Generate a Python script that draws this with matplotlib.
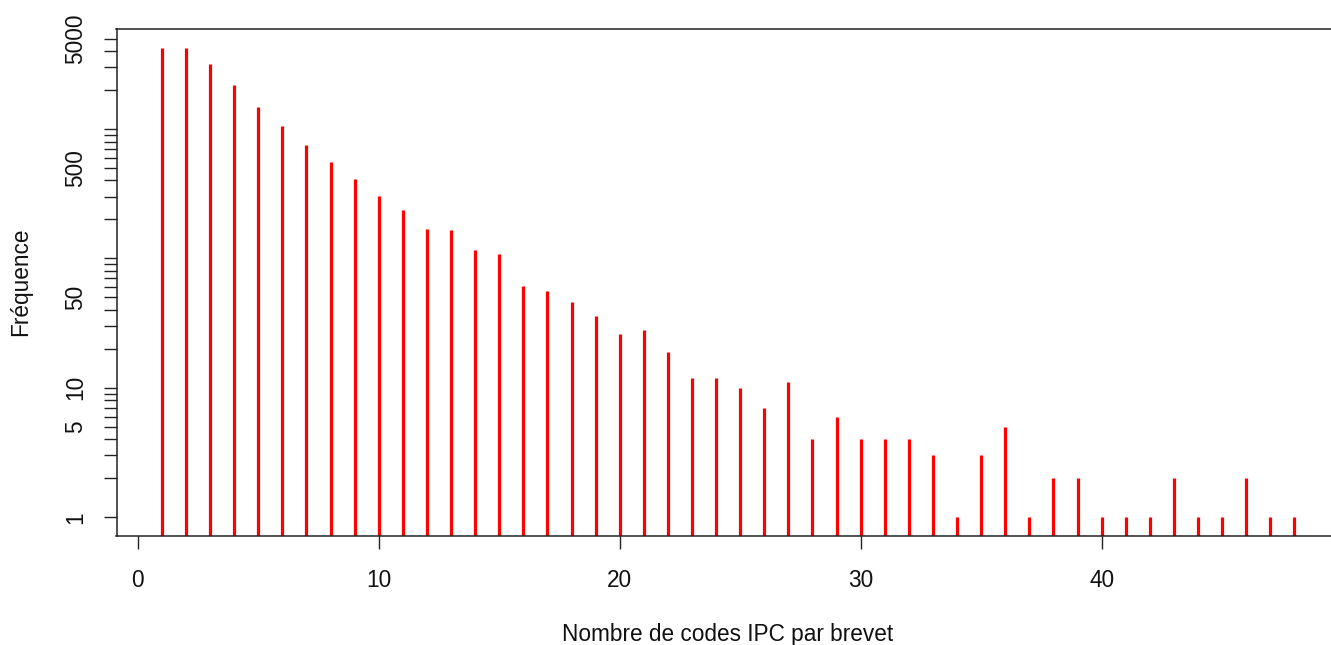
import numpy as np
import matplotlib
matplotlib.use("Agg")
import matplotlib.pyplot as plt
from matplotlib.ticker import FixedLocator, FixedFormatter, NullLocator

# Nombre de codes IPC par brevet et fréquence observée
codes = list(range(1, 49))
frequence = [4241, 4241, 3191, 2181, 1474, 1059, 755, 554, 409, 301,
             237, 170, 166, 117, 108, 61, 56, 46, 36, 26,
             28, 19, 12, 12, 10, 7, 11, 4, 6, 4,
             4, 4, 3, 1, 3, 5, 1, 2, 2, 1,
             1, 1, 2, 1, 1, 2, 1, 1]

x_ticks = [0, 10, 20, 30, 40]
y_tick_labels = {1: "1", 5: "5", 10: "10", 50: "50", 500: "500", 5000: "5000"}

plt.rcParams["font.family"] = ["Liberation Sans", "DejaVu Sans"]

W, H = 1331, 645
fig = plt.figure(figsize=(W / 100, H / 100), dpi=100)

# R-style limits: 4 % padding on each side (log space for y)
xmin, xmax = min(codes), max(codes)
xr = xmax - xmin
xlim = (xmin - 0.04 * xr, xmax + 0.04 * xr)
ly = np.log10(max(frequence))
ylim = (10 ** (-0.04 * ly), 10 ** (1.04 * ly))

left_px, right_px = 116.5, 1339.8
top_px, bottom_px = 29, 536
ax = fig.add_axes([left_px / W, 1 - bottom_px / H,
                   (right_px - left_px) / W, (bottom_px - top_px) / H])
ax.set_yscale("log")
ax.set_xlim(*xlim)
ax.set_ylim(*ylim)

ax.vlines(codes, ylim[0], frequence, colors="#ff0000", linewidth=2.3,
          capstyle="butt")

# Ticks: every 1..9 x 10^k on the log axis, labelled only on a few
y_ticks = [m * 10 ** k for k in range(0, 4) for m in range(1, 10)
           if m * 10 ** k <= ylim[1]]
ax.yaxis.set_major_locator(FixedLocator(y_ticks))
ax.yaxis.set_major_formatter(FixedFormatter(
    [y_tick_labels.get(t, "") for t in y_ticks]))
ax.yaxis.set_minor_locator(NullLocator())
ax.set_xticks(x_ticks)
ax.set_xticklabels([str(t) for t in x_ticks])

for lab in ax.get_yticklabels():
    lab.set_rotation(90)
    lab.set_va("center")
    lab.set_ha("center")

ax.tick_params(axis="both", direction="out", length=9.5, width=1.0,
               color="#222222", labelsize=16.3, labelcolor="#111111")
ax.tick_params(axis="y", pad=20)
ax.tick_params(axis="x", pad=14)

for s in ax.spines.values():
    s.set_linewidth(1.1)
    s.set_color("#222222")

fig.text(728 / W, 1 - 634 / H, "Nombre de codes IPC par brevet",
         ha="center", va="center", fontsize=16.3, color="#111111")
fig.text(21 / W, 1 - 282 / H, "Fréquence", rotation=90,
         ha="center", va="center", fontsize=16.3, color="#111111")

fig.savefig("out.png", dpi=100)
